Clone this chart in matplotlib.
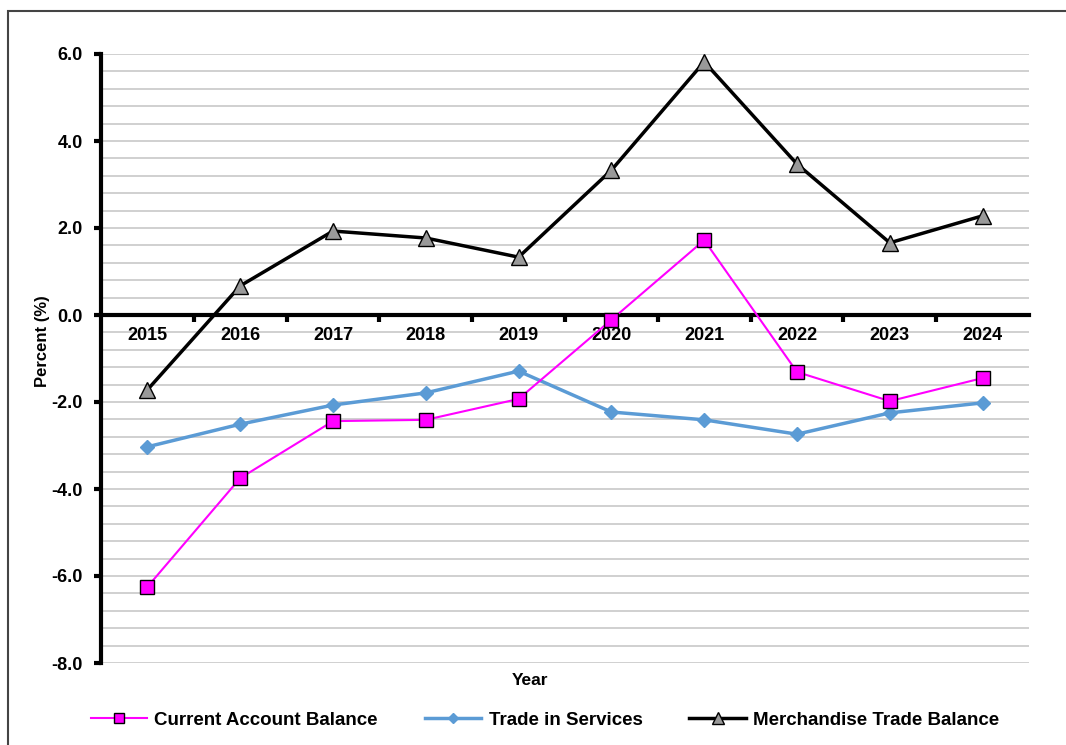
import matplotlib
matplotlib.use("Agg")
import matplotlib.pyplot as plt
from matplotlib.ticker import MultipleLocator, FixedLocator
from matplotlib.patches import Rectangle

# data (percent)
years = [2015, 2016, 2017, 2018, 2019, 2020, 2021, 2022, 2023, 2024]
current_account = [-6.25, -3.75, -2.44, -2.41, -1.93, -0.11, 1.72, -1.31, -1.98, -1.45]
trade_services = [-3.03, -2.51, -2.07, -1.79, -1.29, -2.23, -2.41, -2.74, -2.25, -2.02]
merch_balance = [-1.72, 0.67, 1.93, 1.77, 1.33, 3.33, 5.82, 3.47, 1.66, 2.28]

plt.rcParams['font.family'] = ['Liberation Sans', 'DejaVu Sans']
plt.rcParams['font.weight'] = 'bold'

fig = plt.figure(figsize=(10.66, 7.45), dpi=100)
ax = fig.add_axes([101/1066, 1-663/745, 928/1066, 609/745])

# outer border (right and bottom run off the image)
fig.patches.append(Rectangle((8/1066, -0.2), 1.2, 1.2 - 11/745, transform=fig.transFigure,
                             fill=False, edgecolor='#444444', linewidth=1.5, zorder=0))

pos = list(range(len(years)))
ax.plot(pos, current_account, color='#ff00ff', lw=1.5, marker='s', ms=10,
        mfc='#ff00ff', mec='black', mew=1.0, label='Current Account Balance', zorder=4)
ax.plot(pos, trade_services, color='#5b9bd5', lw=2.5, marker='D', ms=7,
        mfc='#5b9bd5', mec='#5b9bd5', label='Trade in Services', zorder=3)
ax.plot(pos, merch_balance, color='black', lw=2.5, marker='^', ms=12,
        mfc='#999999', mec='black', mew=1.0, label='Merchandise Trade Balance', zorder=5)

ax.set_xlim(-0.5, len(years) - 0.5)
ax.set_ylim(-8, 6)

# y axis
ax.yaxis.set_major_locator(MultipleLocator(2))
ax.yaxis.set_minor_locator(MultipleLocator(0.4))
ax.yaxis.set_major_formatter(lambda v, p: f"{v:.1f}")
ax.grid(True, axis='y', which='both', color='#c8c8c8', lw=1.2)
ax.tick_params(axis='y', which='major', direction='out', length=5, width=3,
               labelsize=13, pad=8)
ax.tick_params(axis='y', which='minor', length=0)
ax.yaxis.set_zorder(0.5)
ax.xaxis.set_zorder(2.6)

# x axis sits on zero, ticks between categories, labels at centres
ax.spines['bottom'].set_position(('data', 0))
ax.spines['bottom'].set_linewidth(3)
ax.spines['left'].set_linewidth(3)
ax.spines['top'].set_visible(False)
ax.spines['right'].set_visible(False)
ax.xaxis.set_major_locator(FixedLocator([p + 0.5 for p in pos[:-1]]))
ax.xaxis.set_major_formatter(lambda v, p: "")
ax.xaxis.set_minor_locator(FixedLocator(pos))
ax.set_xticklabels([str(y) for y in years], minor=True)
ax.tick_params(axis='x', which='major', direction='out', length=5, width=3)
ax.tick_params(axis='x', which='minor', length=0, labelsize=13, pad=9)
for t in ax.get_xticklabels(minor=True):
    t.set_fontweight('bold')
for t in ax.get_yticklabels():
    t.set_fontweight('bold')

ax.set_ylabel('Percent (%)', fontsize=12, fontweight='bold')
ax.yaxis.set_label_coords(-0.055, 0.529)
ax.text((530-101)/928, -0.028, 'Year', transform=ax.transAxes, ha='center', va='center',
        fontsize=12.5, fontweight='bold')

fig.legend(loc='center', bbox_to_anchor=(545/1066, 1-720/745), ncol=3, frameon=False,
           handlelength=3, columnspacing=2.5, handletextpad=0.4, markerscale=0.75,
           prop={'weight': 'bold', 'size': 13.5})

fig.savefig('out.png', dpi=100)
